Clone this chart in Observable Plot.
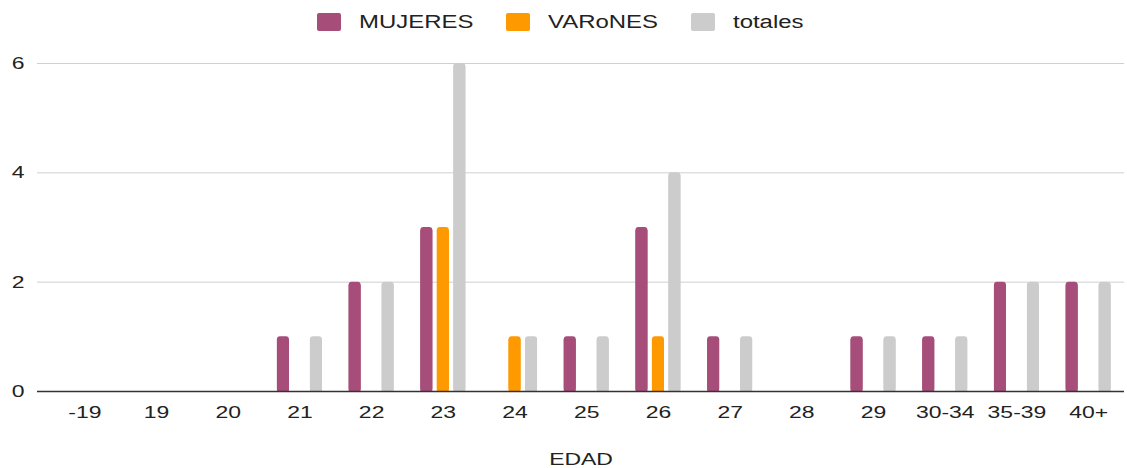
<!DOCTYPE html>
<html><head><meta charset="utf-8">
<script src="https://cdn.jsdelivr.net/npm/d3@7"></script>
<script src="https://cdn.jsdelivr.net/npm/@observablehq/plot@0.6"></script>
<style>
body{margin:0;background:#fff;font-family:"Liberation Sans",Arial,sans-serif;}
#legend{height:44px;display:flex;justify-content:center;align-items:center;padding-right:7px;}
.item{display:flex;align-items:center;margin:0 16.5px;}
.sw{width:24px;height:18px;border-radius:2px;margin-right:18px;}
.lab{display:inline-block;font-size:18px;color:#222;white-space:nowrap;}
.lab span{display:inline-block;transform-origin:left center;}
svg{display:block;}
</style>
</head><body>
<div id="legend"></div>
<div id="chart"></div>
<script>
const categories = ["-19","19","20","21","22","23","24","25","26","27","28","29","30-34","35-39","40+"];
const series = ["MUJERES","VARoNES","totales"];
const mujeres = [0,0,0,1,2,3,0,1,3,1,0,1,1,2,2];
const varones = [0,0,0,0,0,3,1,0,1,0,0,0,0,0,0];
const totales = [0,0,0,1,2,6,1,1,4,1,0,1,1,2,2];
const colors = ["#a64d79","#ff9900","#cccccc"];
const yTicks = [0,2,4,6];
const xLabel = "EDAD";

const STRETCH = 1.35;
const W=1127,H=424,ml=37,mr=3,mt=19,mb=77,po=0.08;
const step=(W-ml-mr)/(categories.length+2*po);
const barW=12, gap=16.5;
const valuesBySeries=[mujeres,varones,totales];

const marks=[Plot.ruleY(yTicks.filter(t=>t>0),{stroke:"#d0d0d0"})];
series.forEach((s,i)=>{
  const data=categories.map((c,j)=>({cat:c,value:valuesBySeries[i][j],series:s})).filter(d=>d.value>0);
  const off=(i-1)*gap;
  const inset=(step-barW)/2;
  const common={x:"cat",y:"value",fill:colors[i],insetLeft:inset+off,insetRight:inset-off};
  marks.push(Plot.barY(data,{...common,rx:3}));
  marks.push(Plot.barY(data,{...common,insetTop:3}));
});
marks.push(Plot.ruleY([0],{stroke:"#333",strokeWidth:1.3}));
marks.push(Plot.axisY({ticks:yTicks,tickFormat:d3.format("d"),tickSize:0,tickPadding:13,label:null}));
marks.push(Plot.axisX({tickSize:0,tickPadding:14,label:xLabel,labelAnchor:"center",labelOffset:73}));

const chart=Plot.plot({
  width:W,height:H,marginLeft:ml,marginRight:mr,marginTop:mt,marginBottom:mb,
  x:{domain:categories,paddingInner:0,paddingOuter:po,align:1,round:false},
  y:{domain:[0,6]},
  style:{fontFamily:"'Liberation Sans',Arial,sans-serif",fontSize:"17px",color:"#222",background:"#fff"},
  marks
});
document.getElementById("chart").appendChild(chart);
chart.querySelectorAll("text").forEach(t=>{
  const len=t.getComputedTextLength();
  if(len>0){t.setAttribute("lengthAdjust","spacingAndGlyphs");t.setAttribute("textLength",len*STRETCH);}
});

const legend=document.getElementById("legend");
series.forEach((s,i)=>{
  const item=document.createElement("div");item.className="item";
  const sw=document.createElement("div");sw.className="sw";sw.style.background=colors[i];
  const lab=document.createElement("span");lab.className="lab";
  const inner=document.createElement("span");inner.textContent=s;
  lab.appendChild(inner);item.appendChild(sw);item.appendChild(lab);legend.appendChild(item);
  const w=inner.getBoundingClientRect().width;
  lab.style.width=(w*1.33)+"px";
  inner.style.transform="scaleX(1.33)";
});
</script>
</body></html>
